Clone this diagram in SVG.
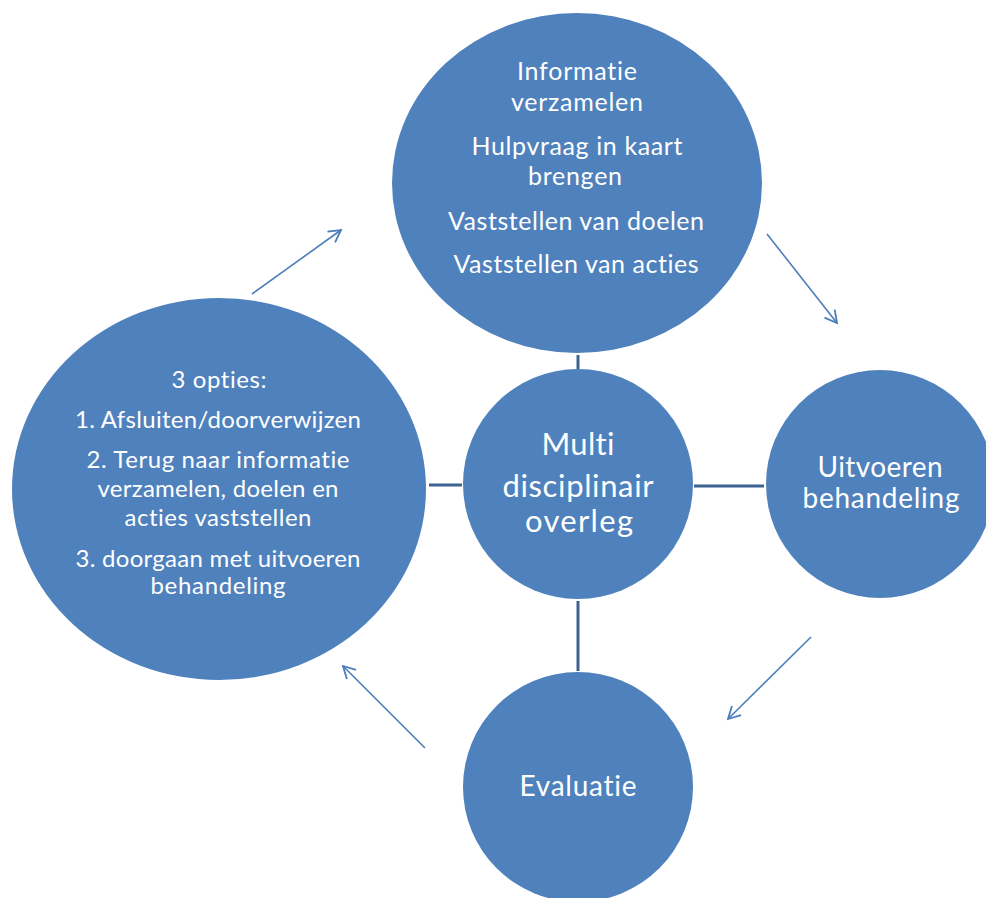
<svg xmlns="http://www.w3.org/2000/svg" width="986" height="898" viewBox="0 0 986 898">
<style>
.node{fill:#4F81BD}
.t{font-family:Lato,"Open Sans","Liberation Sans",sans-serif;fill:#FFFFFF;text-anchor:middle;font-variant-ligatures:none;font-feature-settings:"liga" 0}
.s23{font-size:24px}
.s25{font-size:25px}
.s27{font-size:28px}
.s30{font-size:31px}
.conn{stroke:#3B6292;stroke-width:3;fill:none}
.arr{stroke:#4A7EBB;stroke-width:1.6;fill:none;marker-end:url(#ah)}
</style>
<defs>
<marker id="ah" markerUnits="userSpaceOnUse" markerWidth="16" markerHeight="16" refX="13" refY="8" orient="auto" viewBox="0 0 16 16">
<path d="M1,1.5 L13,8 L1,14.5" fill="none" stroke="#4A7EBB" stroke-width="1.8"/>
</marker>
</defs>
<rect width="986" height="898" fill="#FFFFFF"/>
<g id="connectors">
<line class="conn" x1="578" y1="355" x2="578" y2="369"/>
<line class="conn" x1="429" y1="485" x2="462" y2="485"/>
<line class="conn" x1="694" y1="486" x2="764" y2="486"/>
<line class="conn" x1="578" y1="601" x2="578" y2="671"/>
<line class="arr" x1="252" y1="294" x2="341" y2="230"/>
<line class="arr" x1="767" y1="234" x2="837" y2="323"/>
<line class="arr" x1="811" y1="637" x2="728" y2="719"/>
<line class="arr" x1="425" y1="748" x2="343" y2="666"/>
</g>
<g id="node-top">
<ellipse class="node" cx="577" cy="183" rx="185" ry="170"/>
<text class="t s25" x="577" y="80" textLength="120">Informatie</text>
<text class="t s25" x="577" y="111" textLength="132">verzamelen</text>
<text class="t s25" x="577" y="155" textLength="211">Hulpvraag in kaart</text>
<text class="t s25" x="575" y="185" textLength="94">brengen</text>
<text class="t s25" x="576" y="230" textLength="256">Vaststellen van doelen</text>
<text class="t s25" x="576" y="273" textLength="245">Vaststellen van acties</text>
</g>
<g id="node-left">
<ellipse class="node" cx="219" cy="489" rx="207" ry="191"/>
<text class="t s23" x="219" y="388" textLength="95">3 opties:</text>
<text class="t s23" x="218" y="428" textLength="286">1. Afsluiten/doorverwijzen</text>
<text class="t s23" x="218" y="468" textLength="263">2. Terug naar informatie</text>
<text class="t s23" x="218" y="497" textLength="241">verzamelen, doelen en</text>
<text class="t s23" x="218" y="526" textLength="187">acties vaststellen</text>
<text class="t s23" x="218" y="567" textLength="285">3. doorgaan met uitvoeren</text>
<text class="t s23" x="218" y="594" textLength="135">behandeling</text>
</g>
<g id="node-center">
<circle class="node" cx="578" cy="484" r="115"/>
<text class="t s30" x="578" y="455" textLength="73">Multi</text>
<text class="t s30" x="578" y="497" textLength="151">disciplinair</text>
<text class="t s30" x="579" y="532" textLength="108">overleg</text>
</g>
<g id="node-right">
<circle class="node" cx="880" cy="484" r="114"/>
<text class="t s27" x="880" y="477" textLength="125">Uitvoeren</text>
<text class="t s27" x="881" y="508" textLength="157">behandeling</text>
</g>
<g id="node-bottom">
<circle class="node" cx="578" cy="787" r="115"/>
<text class="t s27" x="578" y="796" textLength="117">Evaluatie</text>
</g>
</svg>
